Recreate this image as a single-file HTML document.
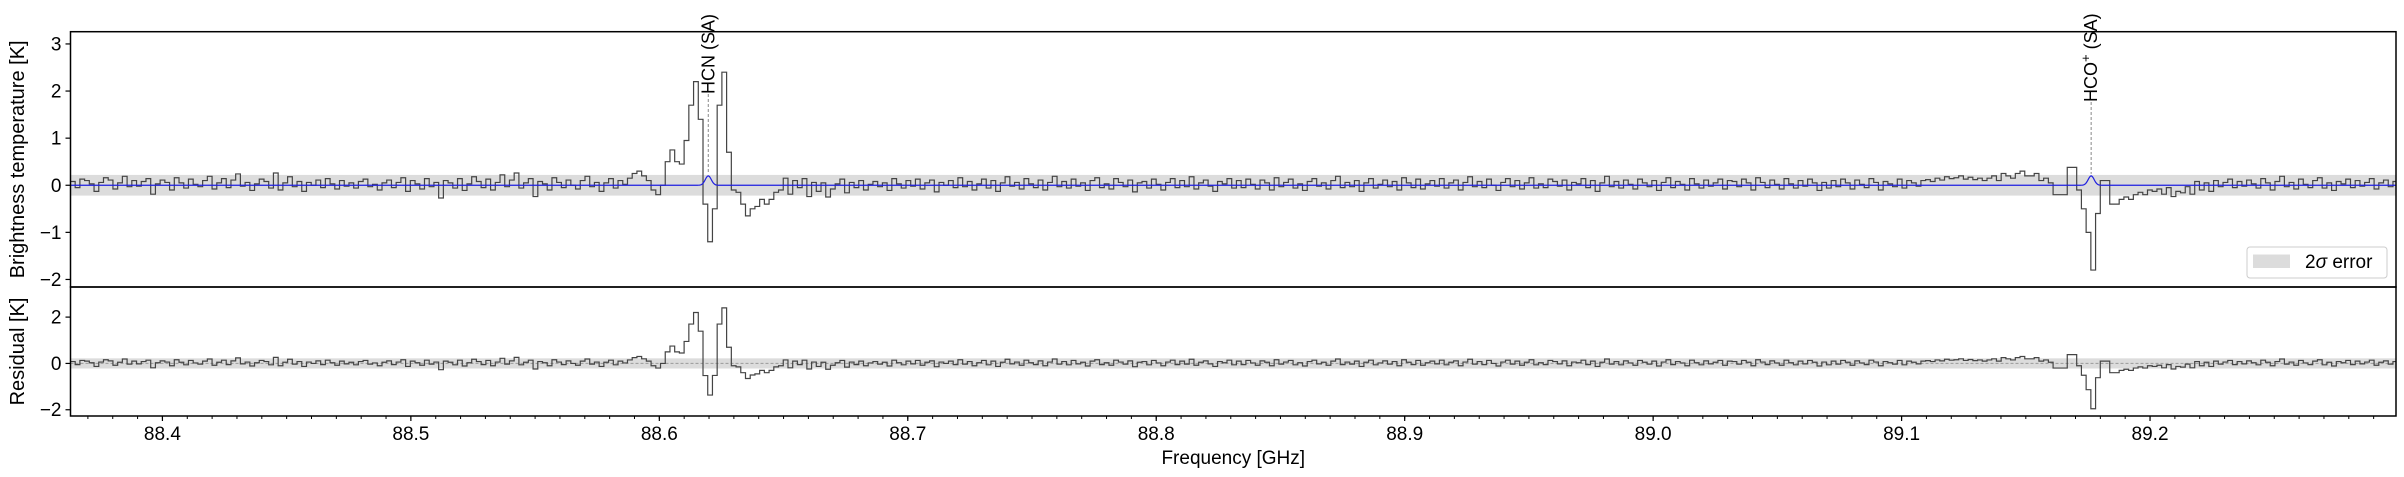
<!DOCTYPE html>
<html><head><meta charset="utf-8"><style>
html,body{margin:0;padding:0;background:#fff;}
svg{display:block;font-family:"Liberation Sans","DejaVu Sans",sans-serif;}
</style></head><body>
<svg id="chart" width="2404" height="477" viewBox="0 0 2404 477"></svg>
<script>
// ---- data ----
const freqStart = 88.36393;   // GHz, centre of first channel
const freqStep = 0.0019;      // GHz per channel
const noiseA = [8,-5,13,10,3,-13,6,16,11,-8,5,19,-3,10,-2,8,14,-19,3,11,6,-10,16,5,-6,13,2,-3,10,19,-8,5,14,-5,11,24,-2,6,-11,3,13,8,-6,26,-10,5,18,-3,8,-13,6,0,11,-5,14,3,-8,10,-2,5,-6,8,13,-3,2,-10,5,11,-5,6,16,-13,10,3,-8,14,-3,6,-27,10,5,-6,14,-11,3,18,8,-5,13,-10,6,22,-3,11,26,-6,5,14,-24,8,3,-10,16,6,-5,11,0,-8,10,19,-3,6,-13,5,14,-6,10,2];
const hcnRegion = [15,25,30,20,10,-10,-20,0,50,75,50,45,95,170,220,140,-40,-120,-50,170,240,70,-10,-15,-40,-65,-50,-45,-30,-40,-30,-15,-10,15];
const noiseC = [-19,10,-5,14,-24,6,-13,5,-25,-8,3,13,-16,6,-5,10,-10,2,8,-3,5,-11,14,3,-6,10,-2,13,-8,5,11,-14,6,0,10,-5,16,-3,8,-10,3,13,-6,10,-13,5,18,-2,6,-8,14,3,-5,11,-10,6,19,-3,8,-6,13,-2,5,-11,10,16,-5,3,-8,14,6,-3,11,-14,5,8,-6,13,2,-10,6,14,-5,10,-3,18,-8,5,11,-2,-13,8,3,14,-6,10,-5,13,2,-8,11,5,-10,16,-3,6,13,-6,3,-11,8,14,-2,5,-8,10,19,-5,6,-3,10,-13,5,14,-6,2,11,-3,8,-10,16,5,-5,13,-8,3,10,-2,14,-6,5,11,-10,6,18,-3,8,-5,13,0,-11,6,14,-3,10,-8,5,16,-6,3,-5,13,8,-2,11,-10,6,3,14,-5,10,-13,5,19,-3,8,-6,11,2,-8,13,5,-3,10,-11,6,16,-5,8,2,-10,14,3,-6,11,-2,5,13,-8,10,8,-3,13,5,-10,16,6,-5,11,2,-8,14,3,-6,10,-2,13,5,-11,6,-6,10,-3,13,5,-8,11,2,-5,14,6,-10,8,3,-3,13,-6,10,5,-2,10,12,8,15,11,18,14,16,20,13,17,12,15];
const hcoRegion = [10,15,20,10,25,20,15,25,30,20,20,25,10,15,5,-20,-20,-20,38,38,-10,-50,-100,-180,-60,10,10,-40,-40,-30,-25,-30,-20,-15,-20,-10];
const noiseE = [-13,-8,-19,-5,-24,-13,-16,-3,-19,8,-10,5,-13,10,-3,6,13,-5,8,-2,11,3,-6,14,5,-10,8,19,-3,6,-8,13,2,-5,10,16,-6,5,-11,8,3,13,-5,10,-2,6,14,-8,5,11,-3,8];
const lineNames = ["HCN (SA)", "HCO+ (SA)"];
const lineFreqs = [88.6197, 89.1763];
const modelAmps = [0.2, 0.2];
const modelWidth = 0.0012;
const sigma2 = 0.22;
const xTicks = [88.4, 88.5, 88.6, 88.7, 88.8, 88.9, 89.0, 89.1, 89.2];
const xTickLabels = ["88.4","88.5","88.6","88.7","88.8","88.9","89.0","89.1","89.2"];
const yTicksTop = [3, 2, 1, 0, -1, -2];
const yTicksBot = [2, 0, -2];

// ---- scales ----
const NS="http://www.w3.org/2000/svg";
const svg=document.getElementById('chart');
const L=70.5, R=2396, T1=31.7, B1=287, T2=287, B2=416;
const xmin=88.363, xmax=89.299;
const x=f=>L+(f-xmin)/(xmax-xmin)*(R-L);
const yTop=v=>T1+(3.26-v)/(3.26+2.16)*(B1-T1);
const yBot=v=>T2+(3.3-v)/(3.3+2.27)*(B2-T2);
const vals=[].concat(noiseA,hcnRegion,noiseC,hcoRegion,noiseE).map(v=>v/100);
const freqs=vals.map((v,i)=>freqStart+i*freqStep);
const model=f=>{let s=0;for(let j=0;j<lineFreqs.length;j++){s+=modelAmps[j]*Math.exp(-0.5*Math.pow((f-lineFreqs[j])/modelWidth,2));}return s;};

function el(tag,attrs,parent){const e=document.createElementNS(NS,tag);for(const k in attrs)e.setAttribute(k,attrs[k]);(parent||svg).appendChild(e);return e;}
function stepPath(ys,yf){let d='';for(let i=0;i<ys.length;i++){const x0=Math.max(L,x(freqs[i]-freqStep/2)),x1=Math.min(R,x(freqs[i]+freqStep/2)),yy=yf(ys[i]).toFixed(2);d+=(i===0?'M':'L')+x0.toFixed(2)+','+yy+'L'+x1.toFixed(2)+','+yy;}return d;}

// ---- top panel ----
const band1=el('rect',{x:L,y:yTop(sigma2),width:R-L,height:yTop(-sigma2)-yTop(sigma2),fill:'#dcdcdc'});


const spec=el('path',{d:stepPath(vals,yTop),fill:'none',stroke:'#444',"stroke-width":1.2});


let md='';for(let px=L;px<=R;px+=1){const f=xmin+(px-L)/(R-L)*(xmax-xmin);md+=(px===L?'M':'L')+px.toFixed(1)+','+yTop(model(f)).toFixed(2);}
const mp=el('path',{d:md,fill:'none',stroke:'#1f1fe0',"stroke-width":1.2});


lineNames.forEach((n,j)=>{
  const lx=x(lineFreqs[j]);
  const base=j===0?94:102;
  const dl=el('line',{x1:lx,y1:base,x2:lx,y2:yTop(modelAmps[j])-2,stroke:'#888',"stroke-width":1,"stroke-dasharray":'3,2'});
  
  
  const t=el('text',{x:0,y:0,"font-size":18,transform:`translate(${lx+6},${base}) rotate(-90)`,fill:'#000'});
  
  
  if(j===0){t.textContent=n;}else{t.textContent='HCO';const s=el('tspan',{dy:-7,"font-size":13},t);s.textContent='+';const s2=el('tspan',{dy:7},t);s2.textContent='  (SA)';}
});
const ax1=el('rect',{x:L,y:T1,width:R-L,height:B1-T1,fill:'none',stroke:'#000',"stroke-width":1.5});


yTicksTop.forEach(v=>{
  const yy=yTop(v);
  const tk=el('line',{x1:L-5,y1:yy,x2:L,y2:yy,stroke:'#000',"stroke-width":1.2});
  
  
  const tl=el('text',{x:L-9,y:yy+6.5,"font-size":19,"text-anchor":'end'});
  
  
  tl.textContent=v<0?'\u2212'+(-v):String(v);
});
const yl1=el('text',{x:0,y:0,"font-size":20,"text-anchor":'middle',transform:`translate(24,${(T1+B1)/2}) rotate(-90)`});


yl1.textContent='Brightness temperature [K]';
const lg=el('g',{});


el('rect',{x:2247,y:247,width:140,height:31,rx:3,fill:'#fff',stroke:'#ccc',"stroke-width":1},lg);
el('rect',{x:2253,y:254.5,width:37,height:13.5,fill:'#dcdcdc'},lg);
const lt=el('text',{x:2305,y:268,"font-size":19},lg);


lt.textContent='2';const ls=el('tspan',{"font-style":'italic'},lt);ls.textContent='\u03c3';const ls2=el('tspan',{},lt);ls2.textContent=' error';

// ---- bottom panel ----
const band2=el('rect',{x:L,y:yBot(sigma2),width:R-L,height:yBot(-sigma2)-yBot(sigma2),fill:'#dcdcdc'});


const z=el('line',{x1:L,y1:yBot(0),x2:R,y2:yBot(0),stroke:'#999',"stroke-width":1,"stroke-dasharray":'3,2'});


const resid=vals.map((v,i)=>v-model(freqs[i]));
const rp=el('path',{d:stepPath(resid,yBot),fill:'none',stroke:'#444',"stroke-width":1.2});


const ax2=el('rect',{x:L,y:T2,width:R-L,height:B2-T2,fill:'none',stroke:'#000',"stroke-width":1.5});


yTicksBot.forEach(v=>{
  const yy=yBot(v);
  const tk=el('line',{x1:L-5,y1:yy,x2:L,y2:yy,stroke:'#000',"stroke-width":1.2});
  
  
  const tl=el('text',{x:L-9,y:yy+6.5,"font-size":19,"text-anchor":'end'});
  
  
  tl.textContent=v<0?'\u2212'+(-v):String(v);
});
const yl2=el('text',{x:0,y:0,"font-size":20,"text-anchor":'middle',transform:`translate(24,${(T2+B2)/2}) rotate(-90)`});


yl2.textContent='Residual [K]';
for(let k=Math.ceil(xmin*100);k<=Math.floor(xmax*100);k++){
  const f=k/100,xx=x(f);
  const tk=el('line',{x1:xx,y1:B2,x2:xx,y2:B2+3,stroke:'#000',"stroke-width":1});
  
  
}
xTicks.forEach((f,i)=>{
  const xx=x(f);
  const tk=el('line',{x1:xx,y1:B2,x2:xx,y2:B2+5,stroke:'#000',"stroke-width":1.2});
  
  
  const tl=el('text',{x:xx,y:440,"font-size":19,"text-anchor":'middle'});
  
  
  tl.textContent=xTickLabels[i];
});
const xl=el('text',{x:(L+R)/2,y:464,"font-size":19,"text-anchor":'middle'});


xl.textContent='Frequency [GHz]';
</script>
</body></html>
